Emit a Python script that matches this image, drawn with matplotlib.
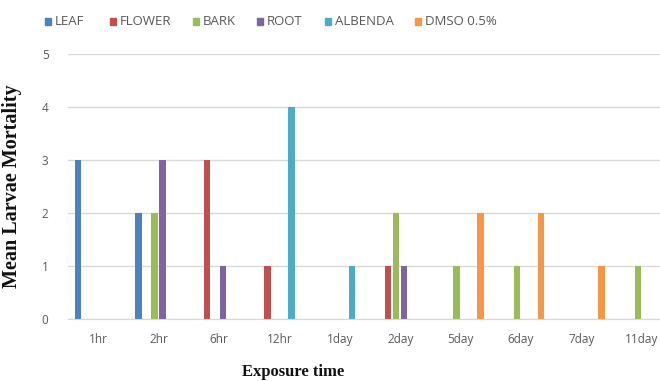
import matplotlib
matplotlib.use("Agg")
import matplotlib.pyplot as plt
from matplotlib.patches import Rectangle
import numpy as np

# Categories and series values
categories = ["1hr", "2hr", "6hr", "12hr", "1day", "2day", "5day", "6day", "7day", "11day"]
series_names = ["LEAF", "FLOWER", "BARK", "ROOT", "ALBENDA", "DMSO 0.5%"]
leaf = [3, 2, 0, 0, 0, 0, 0, 0, 0, 0]
flower = [0, 0, 3, 1, 0, 1, 0, 0, 0, 0]
bark = [0, 2, 0, 0, 0, 2, 1, 1, 0, 1]
root = [0, 3, 1, 0, 0, 1, 0, 0, 0, 0]
albenda = [0, 0, 0, 4, 1, 0, 0, 0, 0, 0]
dmso = [0, 0, 0, 0, 0, 0, 2, 2, 1, 0]
colors = ["#4F81BD", "#C0504D", "#9BBB59", "#8064A2", "#4BACC6", "#F79646"]

plt.rcParams["font.family"] = ["Open Sans", "DejaVu Sans"]

W, H = 660, 381
fig = plt.figure(figsize=(W / 100, H / 100), dpi=100)
ax = fig.add_axes([68 / W, 62 / H, 604 / W, 265 / H])

x = np.arange(len(categories))
slot = 8 / 60
width = 6.5 / 60
all_series = [leaf, flower, bark, root, albenda, dmso]
for i, (name, vals, col) in enumerate(zip(series_names, all_series, colors)):
    offs = (i - 2.5) * slot
    ax.bar(x + offs, vals, width=width, color=col, label=name)

ax.set_xlim(-0.5, len(categories) - 0.5)
ax.set_ylim(0, 5)
ax.set_yticks(range(6))
ax.set_xticks(x)
ax.set_xticklabels(categories)
ax.tick_params(axis="both", length=0, labelsize=8.5, colors="#595959")
ax.tick_params(axis="x", pad=10)
ax.tick_params(axis="y", pad=14)
ax.yaxis.grid(True, color="#D9D9D9", linewidth=1)
ax.set_axisbelow(True)
for s in ["top", "right", "left"]:
    ax.spines[s].set_visible(False)
ax.spines["bottom"].set_color("#D9D9D9")

ax.set_ylabel("Mean Larvae Mortality", family="Liberation Serif", fontweight="bold",
              fontsize=14.5, color="#111111")
ax.yaxis.set_label_coords((22 - 68) / 604, 0.5)
fig.text(293 / W, 1 - 372 / H, "Exposure time", family="Liberation Serif",
         fontweight="bold", fontsize=12, ha="center", va="center", color="#111111")

# Legend row across the top, drawn item by item to match spacing
legend_x = [45, 110, 193, 257, 325, 415]
for lx, name, col in zip(legend_x, series_names, colors):
    fig.patches.append(Rectangle((lx / W, 1 - 25 / H), 6 / W, 7 / H,
                                 transform=fig.transFigure, color=col))
    fig.text((lx + 10) / W, 1 - 21.5 / H, name, fontsize=9.5, color="#595959",
             ha="left", va="center")

fig.savefig("out.png", dpi=100)
